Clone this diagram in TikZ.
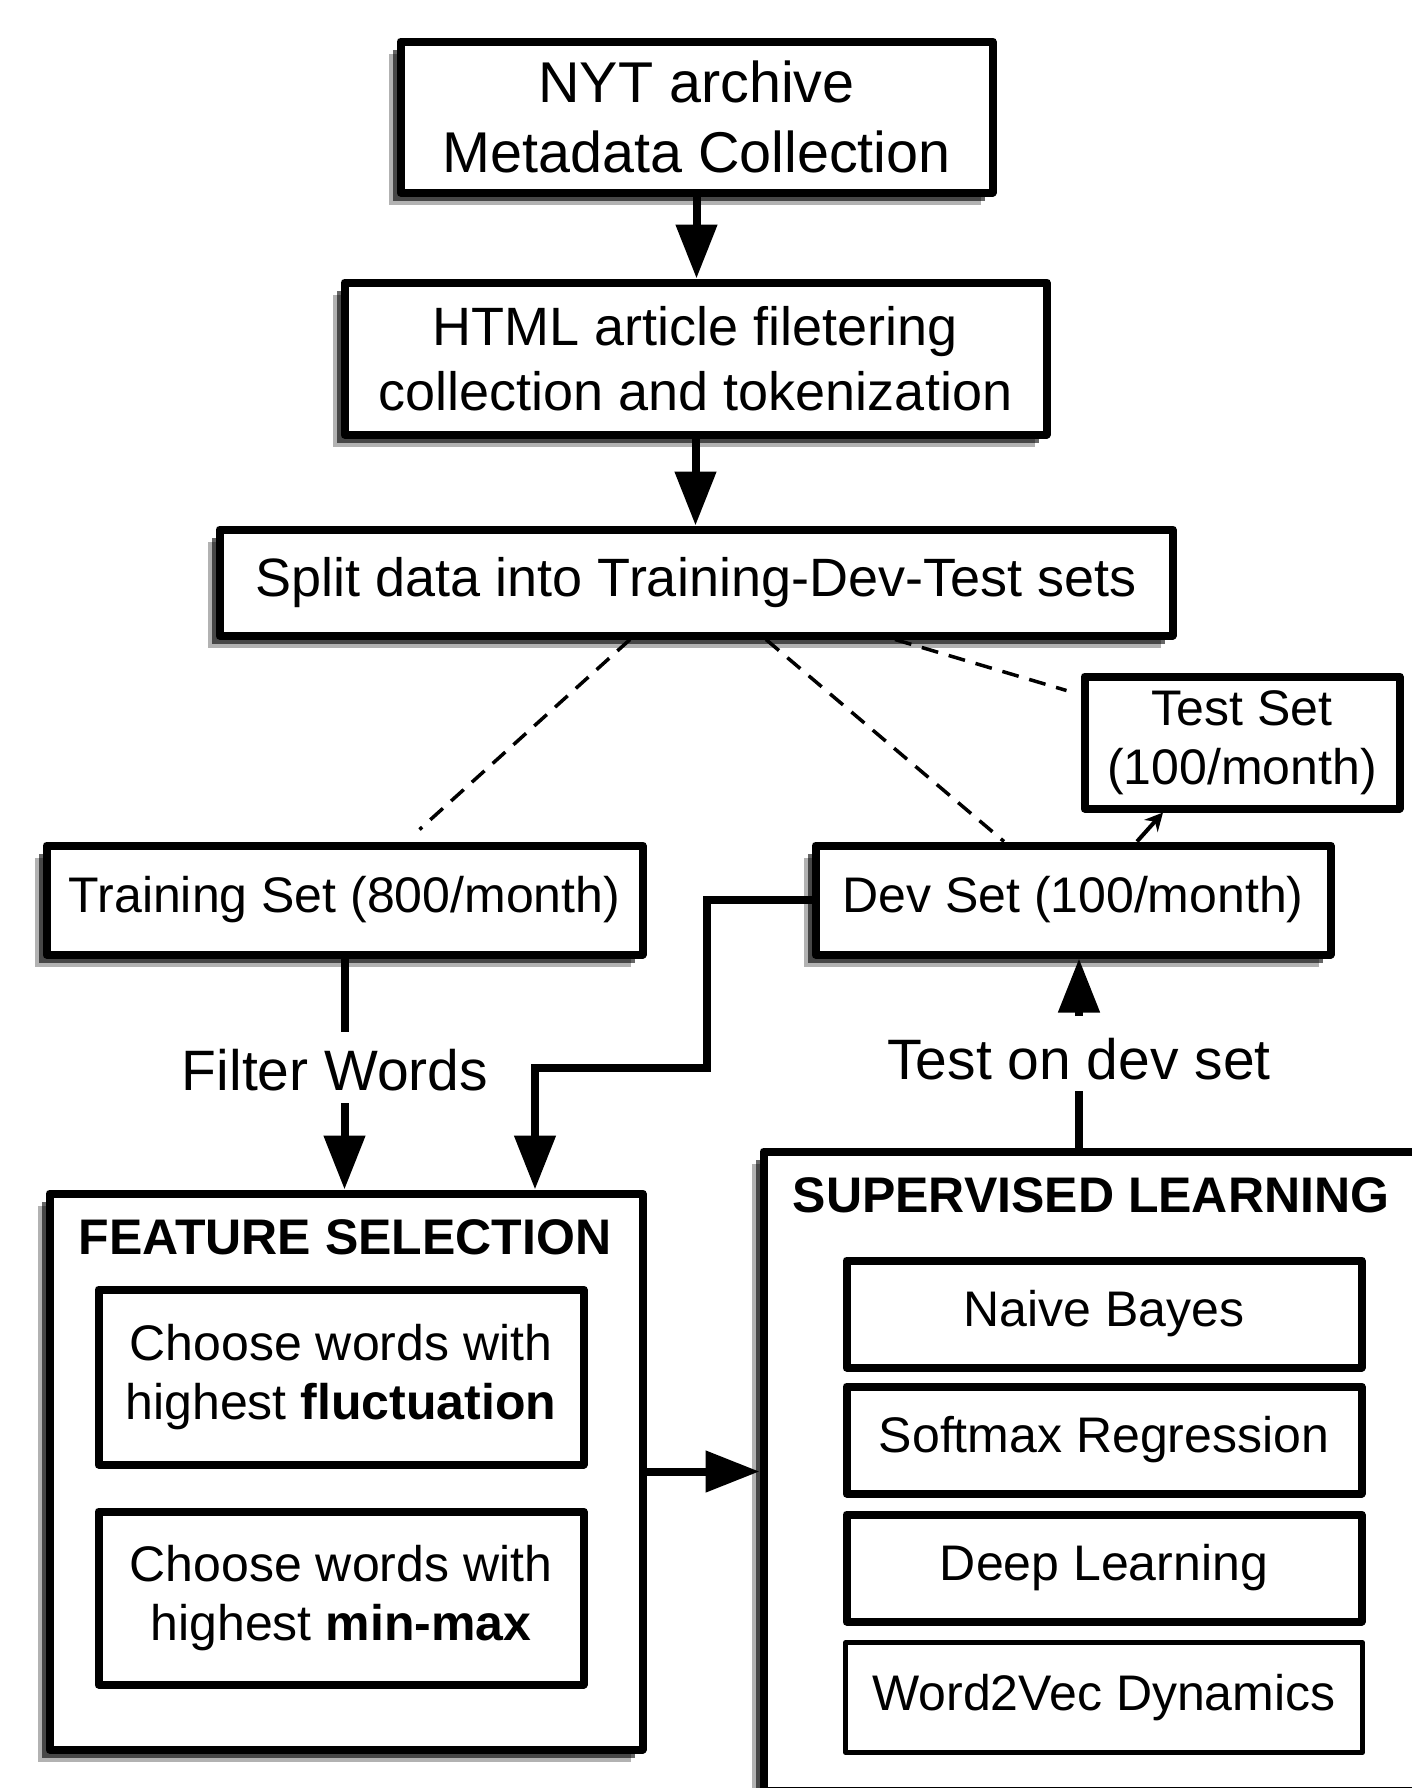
\documentclass[tikz,border=0pt]{standalone}
\usepackage{fontspec}
\setmainfont{Liberation Sans}
\usetikzlibrary{arrows.meta,shadows,calc}
\begin{document}
\begin{tikzpicture}[x=1pt,y=-1pt,
  box/.style={draw, line width=8pt, line join=round, fill=white, align=center, inner sep=0pt},
  shad/.style={general shadow={shadow xshift=-12pt,shadow yshift=-12pt,fill=black,opacity=.3},
               general shadow={shadow xshift=-8pt,shadow yshift=-8pt,fill=black,opacity=.6}},
  conn/.style={line width=8pt},
  bigarrow/.style={line width=8pt, -{Triangle[length=54pt,width=40pt]}},
  dashln/.style={line width=3.5pt, dash pattern=on 17pt off 11pt},
  big/.style={font=\fontsize{50}{59}\selectfont},
  ttl/.style={font=\bfseries\fontsize{50}{60}\selectfont},
]
\useasboundingbox (0,0) rectangle (1412,1788);
\clip (0,0) rectangle (1412,1788);
\fill[white] (0,0) rectangle (1412,1788);

% top chain
\node[box,shad,minimum width=592pt,minimum height=151pt,font=\fontsize{57.5}{70}\selectfont] (nyt) at (696.5,117) {NYT archive\\Metadata Collection};
\node[box,shad,minimum width=702pt,minimum height=152pt,font=\fontsize{54}{65}\selectfont] (html) at (695.5,358.5) {HTML article filetering\\collection and tokenization};
\node[box,shad,minimum width=953pt,minimum height=106pt,font=\fontsize{54}{65}\selectfont] (split) at (696,582.5) {Split data into Training-Dev-Test sets};

% sets
\node[box,big,minimum width=315pt,minimum height=132pt] (test) at (1242,742.5) {Test Set\\(100/month)};
\node[box,shad,big,minimum width=596pt,minimum height=109pt] (train) at (344.5,900) {Training Set (800/month)};
\node[box,shad,big,minimum width=515pt,minimum height=109pt] (dev) at (1073,900) {Dev Set (100/month)};

% feature selection
\node[box,shad,minimum width=593pt,minimum height=556pt] (feat) at (346,1471.5) {};
\node[ttl] (fstitle) at (345,1237) {FEATURE SELECTION};
\node[box,big,minimum width=485pt,minimum height=175pt] (c1) at (341,1377) {Choose words with\\highest \textbf{fluctuation}};
\node[box,big,minimum width=485pt,minimum height=173pt] (c2) at (341,1598) {Choose words with\\highest \textbf{min-max}};

% supervised learning
\node[box,shad,minimum width=676.5pt,minimum height=639.5pt] (sup) at (1101.75,1471.25) {};
\node[ttl] (sltitle) at (1091,1195) {SUPERVISED LEARNING};
\node[box,big,minimum width=515pt,minimum height=107pt] (nb) at (1104,1314) {Naive Bayes};
\node[box,big,minimum width=515pt,minimum height=107pt] (sm) at (1104,1440) {Softmax Regression};
\node[box,big,minimum width=515pt,minimum height=107pt] (dl) at (1104,1568) {Deep Learning};
\node[box,big,line width=4.5pt,minimum width=517pt,minimum height=110pt] (w2v) at (1104,1697.5) {Word2Vec Dynamics};

% arrows top
\draw[bigarrow] (nyt.south) -- (nyt.south |- html.north);
\draw[bigarrow] (html.south) -- (html.south |- split.north);

% dashed split lines
\draw[dashln] ([xshift=-66pt]split.south) -- ([xshift=75pt,yshift=12pt]train.north);
\draw[dashln] ([xshift=70pt]split.south) -- ([xshift=-69pt]dev.north);
\draw[dashln] ([xshift=199pt]split.south) -- ([xshift=-14pt,yshift=52pt]test.west);

% dev -> test
\draw[line width=4pt,-{Stealth[length=18pt,width=18pt]}] ([xshift=64pt]dev.north) -- ([xshift=-79pt]test.south);

% filter words
\node[font=\fontsize{57}{68}\selectfont, anchor=base, inner sep=0pt] (fw) at (335,1090) {Filter Words};
\coordinate (fwtop) at ([yshift=58pt]fw.base);
\coordinate (fwbot) at ([yshift=-13pt]fw.base);
\draw[conn] (train.south) -- (train.south |- fwtop);
\draw[bigarrow] (train.south |- fwbot) -- (train.south |- feat.north);

% dev -> feature elbow
\coordinate (elbow) at (707,1068);
\coordinate (fx) at (535,1068);
\draw[bigarrow, line join=miter] (dev.west) -| (elbow) -| (fx |- feat.north);

% feature -> supervised
\draw[bigarrow] (feat.east) -- (feat.east -| sup.west);

% test on dev set
\node[font=\fontsize{57}{68}\selectfont, anchor=base, inner sep=0pt] (tl) at (1079,1079) {Test on dev set};
\coordinate (tltop) at ([yshift=63pt]tl.base);
\coordinate (tlbot) at ([yshift=-12pt]tl.base);
\draw[conn] (tlbot |- sup.north) -- (tlbot);
\draw[bigarrow] (tltop) -- (tltop |- dev.south);
\end{tikzpicture}
\end{document}
